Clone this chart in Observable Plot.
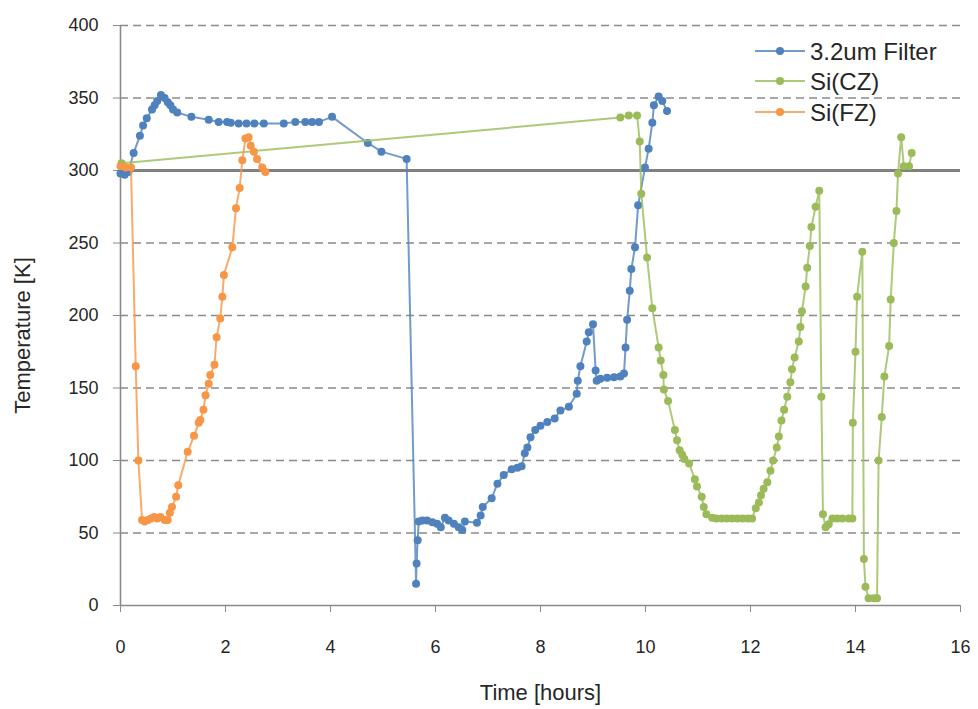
<!DOCTYPE html>
<html><head><meta charset="utf-8">
<script src="https://cdn.jsdelivr.net/npm/d3@7"></script>
<script src="https://cdn.jsdelivr.net/npm/@observablehq/plot@0.6"></script>
<style>
body{margin:0;background:#fff;}
#chart{width:978px;height:709px;}
</style></head><body><div id="chart"></div>
<script>
// ---- data ----
const seriesNames = ["3.2um Filter", "Si(CZ)", "Si(FZ)"];
const seriesColors = ["#4F81BD", "#9BBB59", "#F79646"];

const filterTime = [0.0,0.08,0.15,0.25,0.37,0.43,0.50,0.60,0.65,0.70,0.77,0.84,0.90,0.95,1.00,1.08,1.35,1.68,1.87,2.03,2.10,2.25,2.40,2.55,2.73,3.11,3.33,3.52,3.65,3.78,4.03,4.71,4.97,5.45,5.63,5.64,5.66,5.68,5.75,5.84,5.94,6.03,6.10,6.18,6.25,6.35,6.44,6.51,6.56,6.79,6.86,6.90,7.07,7.18,7.30,7.45,7.56,7.64,7.70,7.75,7.81,7.90,8.00,8.13,8.27,8.38,8.54,8.69,8.71,8.76,8.88,8.92,9.00,9.05,9.07,9.14,9.27,9.40,9.52,9.59,9.62,9.65,9.70,9.73,9.80,9.86,9.99,10.06,10.13,10.16,10.25,10.32,10.41];
const filterTemp = [298,297,299,312,324,331,336,342,345,348,352,350,347,345,342,340,337,335,333.5,333.5,333,332.5,332.5,332.5,332.5,332.5,333.5,333.5,333.5,333.5,337,319,313,308,15,29,45,58,58.6,58.6,57.5,56.3,54,60.5,58.6,56.3,54,52,58,57,62,68,74,84,90,94,95,96,105,109,116,121,124,126.5,129,134.5,137,146,155,165,182,188.5,194,162,155,156.3,157,157.5,158,160,178,197,217,232,247,276,302,315,333,345,351,348,341];

const czTime = [0.02,9.52,9.68,9.84,9.89,9.92,10.03,10.13,10.25,10.29,10.34,10.35,10.43,10.56,10.60,10.65,10.70,10.74,10.83,10.94,10.98,11.07,11.11,11.16,11.27,11.35,11.45,11.55,11.65,11.75,11.85,11.95,12.03,12.10,12.16,12.20,12.25,12.32,12.38,12.43,12.50,12.54,12.59,12.64,12.70,12.76,12.79,12.84,12.92,12.95,12.98,13.05,13.08,13.13,13.16,13.24,13.31,13.35,13.38,13.43,13.49,13.56,13.65,13.75,13.87,13.94,13.95,14.00,14.03,14.13,14.16,14.19,14.25,14.35,14.41,14.44,14.50,14.55,14.64,14.67,14.73,14.78,14.81,14.87,14.92,15.02,15.07];
const czTemp = [305,336.5,338,338,320,284,240,205,178,169,159,149,141,121,114,107,104,101,98,87,82,75,68,63,60.5,60,60,60,60,60,60,60,60,67,71,76,80.5,85,93,100,109,116.5,127.6,135,144,154,163,171,182,192,203,220,233,248,261,275,286,144,63,54,56,60,60,60,60,60,126,175,213,244,32,13,5,5,5,100,130,158,179,211,250,272,298,323,303,303,312];

const fzTime = [0.0,0.1,0.2,0.29,0.34,0.41,0.46,0.52,0.58,0.64,0.70,0.76,0.84,0.90,0.94,0.98,1.06,1.10,1.28,1.40,1.49,1.52,1.58,1.62,1.68,1.71,1.79,1.83,1.90,1.94,1.97,2.13,2.20,2.27,2.32,2.38,2.44,2.48,2.54,2.60,2.70,2.76];
const fzTemp = [303,302,302,165,100,59,58,59,60,61,60,61,59,59,64,68,75,83,106,117,126,128,135,145,153,159,166,185,198,213,228,247,274,288,307,322,323,317,313,308,302,299];

const xTicks = [0,2,4,6,8,10,12,14,16];
const yTicks = [0,50,100,150,200,250,300,350,400];
const refLevel = [300];
const xTitle = "Time [hours]";
const yTitle = "Temperature [K]";

// ---- build ----
const times = [filterTime, czTime, fzTime];
const temps = [filterTemp, czTemp, fzTemp];
const rows = seriesNames.flatMap((s, si) => times[si].map((t, i) => ({series: s, t, k: temps[si][i]})));

const font = "'Liberation Sans', Arial, sans-serif";
const gridColor = "#8a8a8a";
const textColor = "#262626";

const seriesMarks = seriesNames.flatMap((s) => {
  const d = rows.filter(r => r.series === s);
  return [
    Plot.line(d, {x: "t", y: "k", stroke: "series", strokeWidth: 2, strokeOpacity: 0.8}),
    Plot.dot(d, {x: "t", y: "k", fill: "series", r: 4})
  ];
});

const chart = Plot.plot({
  width: 978,
  height: 709,
  marginLeft: 120,
  marginRight: 18,
  marginTop: 25,
  marginBottom: 104,
  style: {fontFamily: font, fontSize: "18px", color: textColor, background: "#fff"},
  x: {domain: [xTicks[0], xTicks[xTicks.length - 1]]},
  y: {domain: [yTicks[0], yTicks[yTicks.length - 1]]},
  color: {domain: seriesNames, range: seriesColors},
  marks: [
    Plot.ruleY(yTicks.filter(v => v > 0 && !refLevel.includes(v)), {stroke: gridColor, strokeWidth: 1.4, strokeDasharray: "8,5"}),
    Plot.ruleX([xTicks[0]], {stroke: gridColor, strokeWidth: 1.6}),
    Plot.ruleY([yTicks[0]], {stroke: gridColor, strokeWidth: 1.6}),
    Plot.ruleY(refLevel, {stroke: "#808080", strokeWidth: 3}),
    Plot.axisY({ticks: yTicks, tickSize: 7, tickPadding: 15, stroke: gridColor, fill: textColor, fontSize: 18, label: null, tickFormat: d => String(d)}),
    Plot.axisX({ticks: xTicks, tickSize: 7, tickPadding: 28, stroke: gridColor, fill: textColor, fontSize: 18, label: null, tickFormat: d => String(d)}),
    ...seriesMarks,
    Plot.text([xTitle], {frameAnchor: "bottom", textAnchor: "middle", lineAnchor: "middle", dy: 87, fontSize: 22, fill: textColor}),
    Plot.text([yTitle], {frameAnchor: "left", textAnchor: "middle", lineAnchor: "middle", dx: -98, dy: 20, rotate: -90, fontSize: 22, fill: textColor})
  ]
});

// legend drawn inside the plot area (top right), as in the reference
const svg = d3.select(chart);
const lg = svg.append("g").attr("font-family", font).attr("font-size", 24).attr("text-anchor", "start");
const rowY = [51, 81, 112];
seriesNames.forEach((s, i) => {
  const g = lg.append("g").attr("transform", `translate(755,${rowY[i]})`);
  g.append("line").attr("x1", 0).attr("x2", 50).attr("stroke", seriesColors[i]).attr("stroke-width", 2).attr("stroke-opacity", 0.8);
  g.append("circle").attr("cx", 25).attr("r", 4).attr("fill", seriesColors[i]);
  g.append("text").attr("x", 55).attr("dy", "0.36em").attr("fill", textColor).attr("text-anchor", "start").text(s);
});

document.getElementById("chart").appendChild(chart);
</script>
</body></html>
